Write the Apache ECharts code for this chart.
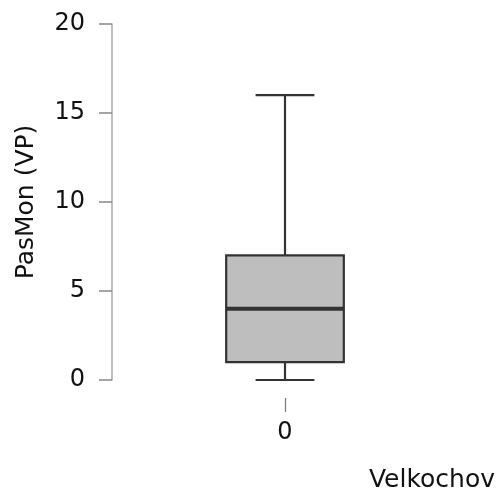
<!DOCTYPE html>
<html><head><meta charset="utf-8">
<script src="https://cdn.jsdelivr.net/npm/echarts@6/dist/echarts.min.js"></script>
<style>html,body{margin:0;padding:0;background:#fff}#c{width:498px;height:493px}</style>
</head><body><div id="c"></div>
<script>
var categories = ['0'];
var boxStats = [[0, 1, 4, 7, 16]]; // min, Q1, median, Q3, max
var yTicks = [0, 5, 10, 15, 20];
var yName = 'PasMon (VP)';
var xName = 'Velkochov';

var FONT = 'DejaVu Sans';
var chart = echarts.init(document.getElementById('c'));
var data = boxStats.map(function (s, i) { return [i].concat(s); });

chart.setOption({
  animation: false,
  grid: { left: 112, right: 38, top: 24, bottom: 113 },
  xAxis: {
    type: 'category', data: categories,
    axisLine: { show: false },
    axisTick: { show: true, length: 32, alignWithLabel: true,
      lineStyle: { color: '#777', width: 1.2, type: [0, 18, 14, 100] } },
    axisLabel: { margin: 41, fontSize: 24, color: '#111', fontFamily: FONT },
    name: xName, nameLocation: 'end', nameGap: 37,
    nameTextStyle: { fontSize: 25, color: '#111', fontFamily: FONT, align: 'right', verticalAlign: 'top', padding: [88, 0, 0, 0] }
  },
  yAxis: {
    type: 'value', min: yTicks[0], max: yTicks[yTicks.length - 1], interval: 5,
    splitLine: { show: false },
    axisLine: { show: true, lineStyle: { color: '#aaa', width: 1.5 } },
    axisTick: { show: true, length: 13, lineStyle: { color: '#888', width: 1.5 } },
    axisLabel: { margin: 27, fontSize: 24, color: '#111', fontFamily: FONT },
    name: yName, nameLocation: 'middle', nameGap: 73, nameRotate: 90,
    nameTextStyle: { fontSize: 25, color: '#111', fontFamily: FONT }
  },
  series: [{
    type: 'custom',
    data: data,
    encode: { x: 0, y: [1, 2, 3, 4, 5] },
    renderItem: function (params, api) {
      var x = api.value(0);
      var mn = api.coord([x, api.value(1)]);
      var q1 = api.coord([x, api.value(2)]);
      var md = api.coord([x, api.value(3)]);
      var q3 = api.coord([x, api.value(4)]);
      var mx = api.coord([x, api.value(5)]);
      var band = api.size([1, 0])[0];
      var hw = band * 0.17;
      var cw = hw / 2;
      var cx = mn[0];
      var st = { stroke: '#333', lineWidth: 2.2 };
      return {
        type: 'group',
        children: [
          { type: 'line', shape: { x1: cx, y1: q3[1], x2: cx, y2: mx[1] }, style: st },
          { type: 'line', shape: { x1: cx - cw, y1: mx[1], x2: cx + cw, y2: mx[1] }, style: st },
          { type: 'line', shape: { x1: cx, y1: q1[1], x2: cx, y2: mn[1] }, style: st },
          { type: 'line', shape: { x1: cx - cw, y1: mn[1], x2: cx + cw, y2: mn[1] }, style: st },
          { type: 'rect', shape: { x: cx - hw, y: q3[1], width: hw * 2, height: q1[1] - q3[1] },
            style: { fill: '#bebebe', stroke: '#333', lineWidth: 2.2 } },
          { type: 'line', shape: { x1: cx - hw, y1: md[1], x2: cx + hw, y2: md[1] },
            style: { stroke: '#333', lineWidth: 4 } }
        ]
      };
    }
  }]
});
</script></body></html>
